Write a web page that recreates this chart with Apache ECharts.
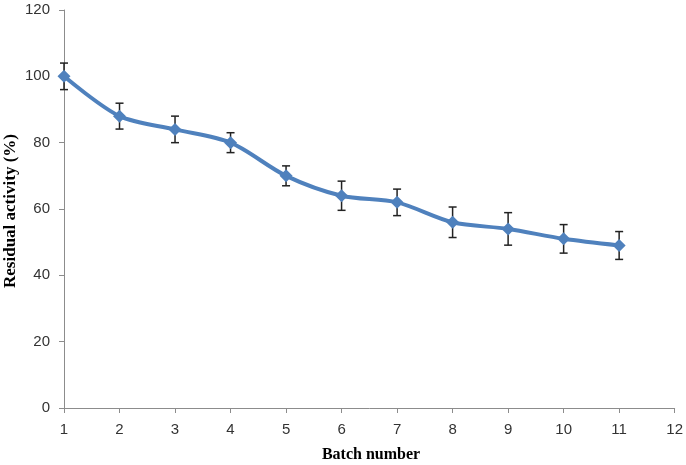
<!DOCTYPE html>
<html>
<head>
<meta charset="utf-8">
<script src="https://cdn.jsdelivr.net/npm/echarts@6/dist/echarts.min.js"></script>
<style>html,body{margin:0;padding:0;background:#fff;}#c{width:686px;height:465px;}</style>
</head>
<body>
<div id="c"></div>
<script>
var batches = [1, 2, 3, 4, 5, 6, 7, 8, 9, 10, 11];
var activity = [100, 88, 84, 80, 70, 64, 62, 56, 54, 51, 49];
var errors = [4, 3.9, 4, 3, 3, 4.4, 4, 4.6, 4.9, 4.3, 4.2];
var yTitle = 'Residual activity (%)';
var xTitle = 'Batch number';

var lineData = batches.map(function (b, i) { return [b, activity[i]]; });
var errData = batches.map(function (b, i) { return [b, activity[i] - errors[i], activity[i] + errors[i]]; });

var chart = echarts.init(document.getElementById('c'));
chart.setOption({
  animation: false,
  backgroundColor: '#fff',
  grid: { left: 64, right: 7, top: 10, bottom: 57 },
  xAxis: {
    type: 'value', min: 1, max: 12, interval: 1,
    axisLine: { lineStyle: { color: '#8c8c8c', width: 1 } },
    axisTick: { show: true, length: 5, lineStyle: { color: '#8c8c8c' } },
    splitLine: { show: false },
    axisLabel: { color: '#333', fontSize: 15, fontFamily: 'Liberation Sans', margin: 14 }
  },
  yAxis: {
    type: 'value', min: 0, max: 120, interval: 20,
    axisLine: { show: true, lineStyle: { color: '#8c8c8c', width: 1 } },
    axisTick: { show: true, length: 5, lineStyle: { color: '#8c8c8c' } },
    splitLine: { show: false },
    axisLabel: { color: '#333', fontSize: 15, fontFamily: 'Liberation Sans', margin: 14 }
  },
  graphic: [
    {
      type: 'text', x: 11, y: 211, rotation: Math.PI / 2,
      style: { text: yTitle, font: 'bold 17px "Liberation Serif"', fill: '#000', align: 'center', verticalAlign: 'middle' }
    },
    {
      type: 'text', x: 371, y: 455,
      style: { text: xTitle, font: 'bold 16px "Liberation Serif"', fill: '#000', align: 'center', verticalAlign: 'middle' }
    }
  ],
  series: [
    {
      type: 'custom', data: errData, z: 1,
      renderItem: function (params, api) {
        var x = api.value(0);
        var lo = api.coord([x, api.value(1)]);
        var hi = api.coord([x, api.value(2)]);
        var w = 4;
        var st = { stroke: '#222', lineWidth: 1.5 };
        return {
          type: 'group',
          children: [
            { type: 'line', shape: { x1: lo[0], y1: lo[1], x2: hi[0], y2: hi[1] }, style: st },
            { type: 'line', shape: { x1: lo[0] - w, y1: lo[1], x2: lo[0] + w, y2: lo[1] }, style: st },
            { type: 'line', shape: { x1: hi[0] - w, y1: hi[1], x2: hi[0] + w, y2: hi[1] }, style: st }
          ]
        };
      }
    },
    {
      type: 'line', data: lineData, smooth: 0.3,
      lineStyle: { color: '#4F81BD', width: 4 },
      symbol: 'diamond', symbolSize: 13,
      itemStyle: { color: '#4F81BD' },
      z: 2
    }
  ]
});
</script>
</body>
</html>
